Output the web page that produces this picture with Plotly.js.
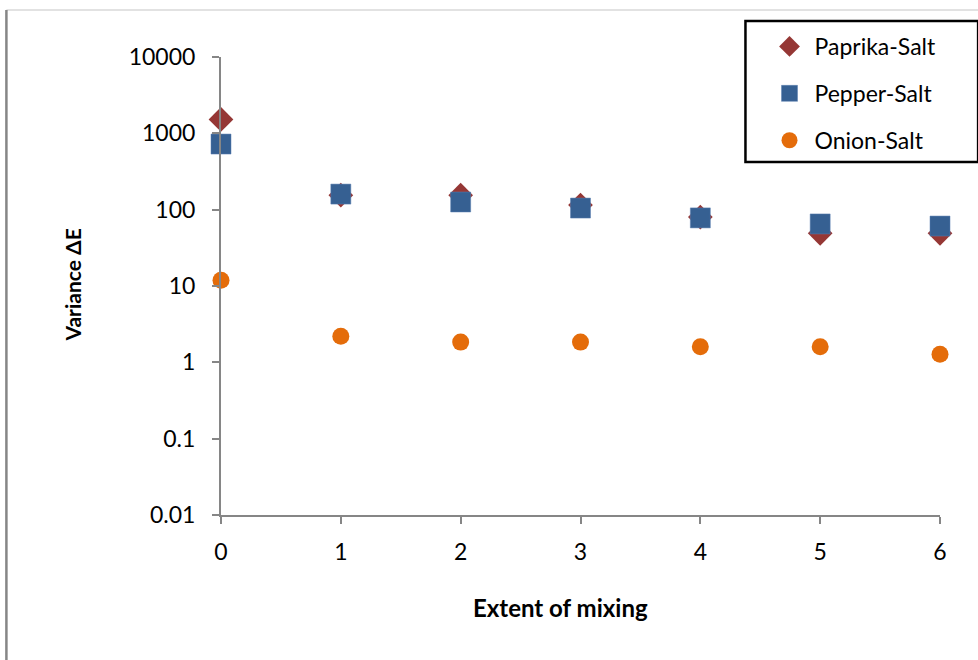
<!DOCTYPE html>
<html>
<head>
<meta charset="utf-8">
<script src="https://cdn.plot.ly/plotly-3.0.1.min.js"></script>
<style>html,body{margin:0;padding:0;background:#fff;}#chart{width:978px;height:660px;}</style>
</head>
<body>
<div id="chart"></div>
<script>
const extent = [0, 1, 2, 3, 4, 5, 6];
const paprikaSalt = [1520, 155, 155, 115, 80, 49, 49];
const pepperSalt = [724, 160, 126, 105, 78, 65, 61];
const onionSalt = [11.9, 2.2, 1.84, 1.84, 1.6, 1.6, 1.28];
const yTickVals = [0.01, 0.1, 1, 10, 100, 1000, 10000];
const yTickText = ['0.01', '0.1', '1', '10', '100', '1000', '10000'];
const xTickVals = [0, 1, 2, 3, 4, 5, 6];

const FONT = 'Lato, "Open Sans", sans-serif';
const px = v => (v - 221) / 717;
const py = v => (515 - v) / 458;

const traces = [
  {x: extent, y: paprikaSalt, name: 'Paprika-Salt', type: 'scatter', mode: 'markers', legendgroup: 'a',
   marker: {symbol: 'diamond', size: 19, color: '#953735'}, cliponaxis: false},
  {x: extent, y: pepperSalt, name: 'Pepper-Salt', type: 'scatter', mode: 'markers', legendgroup: 'b',
   marker: {symbol: 'square', size: 20, color: '#366092', line: {color: '#5a7fb0', width: 0.5}}, cliponaxis: false},
  {x: extent, y: onionSalt, name: 'Onion-Salt', type: 'scatter', mode: 'markers', legendgroup: 'c',
   marker: {symbol: 'circle', size: 17, color: '#E46C0A'}, cliponaxis: false}
];

const layout = {
  width: 978, height: 660,
  margin: {l: 221, r: 38, t: 57, b: 145},
  paper_bgcolor: '#fff', plot_bgcolor: '#fff',
  font: {family: FONT, size: 23, color: '#000'},
  showlegend: true,
  legend: {
    x: px(763), y: py(25), xanchor: 'left', yanchor: 'top',
    borderwidth: 0, bgcolor: 'rgba(0,0,0,0)',
    font: {family: FONT, size: 23, color: '#000'},
    traceorder: 'grouped', tracegroupgap: 14, itemwidth: 40
  },
  xaxis: {
    range: [0, 6], tickvals: xTickVals, ticktext: xTickVals.map(String),
    showgrid: false, zeroline: false, showline: true, linecolor: '#868686', linewidth: 2,
    ticks: 'outside', ticklen: 7, tickwidth: 2, tickcolor: '#868686',
    tickfont: {family: FONT, size: 23, color: '#000'}, ticklabelstandoff: 8
  },
  yaxis: {
    type: 'log', range: [-2, 4], tickvals: yTickVals, ticktext: yTickText,
    showgrid: false, zeroline: false, showline: true, linecolor: '#868686', linewidth: 2,
    ticks: 'outside', ticklen: 7, tickwidth: 2, tickcolor: '#868686',
    tickfont: {family: FONT, size: 23, color: '#000'}, ticklabelstandoff: 12
  },
  annotations: [
    {text: '<b>Extent of mixing</b>', xref: 'paper', yref: 'paper', x: px(560), y: py(607),
     xanchor: 'center', yanchor: 'middle', showarrow: false, font: {family: FONT, size: 24, color: '#000'}},
    {text: '<b>Variance ΔE</b>', xref: 'paper', yref: 'paper', x: px(72), y: py(285),
     xanchor: 'center', yanchor: 'middle', textangle: -90, showarrow: false, font: {family: FONT, size: 21, color: '#000'}}
  ],
  shapes: [
    {type: 'line', xref: 'paper', yref: 'paper', x0: px(7), x1: px(978), y0: py(10), y1: py(10),
     line: {color: '#d9d9d9', width: 1.5}},
    {type: 'line', xref: 'paper', yref: 'paper', x0: px(7), x1: px(7), y0: py(10), y1: py(662),
     line: {color: '#868686', width: 2.5}},
    {type: 'rect', xref: 'paper', yref: 'paper', x0: px(744), x1: px(976), y0: py(21), y1: py(162),
     line: {color: '#000', width: 2.5}, fillcolor: 'rgba(0,0,0,0)'}
  ]
};

Plotly.newPlot('chart', traces, layout, {displayModeBar: false, staticPlot: true});
</script>
</body>
</html>
